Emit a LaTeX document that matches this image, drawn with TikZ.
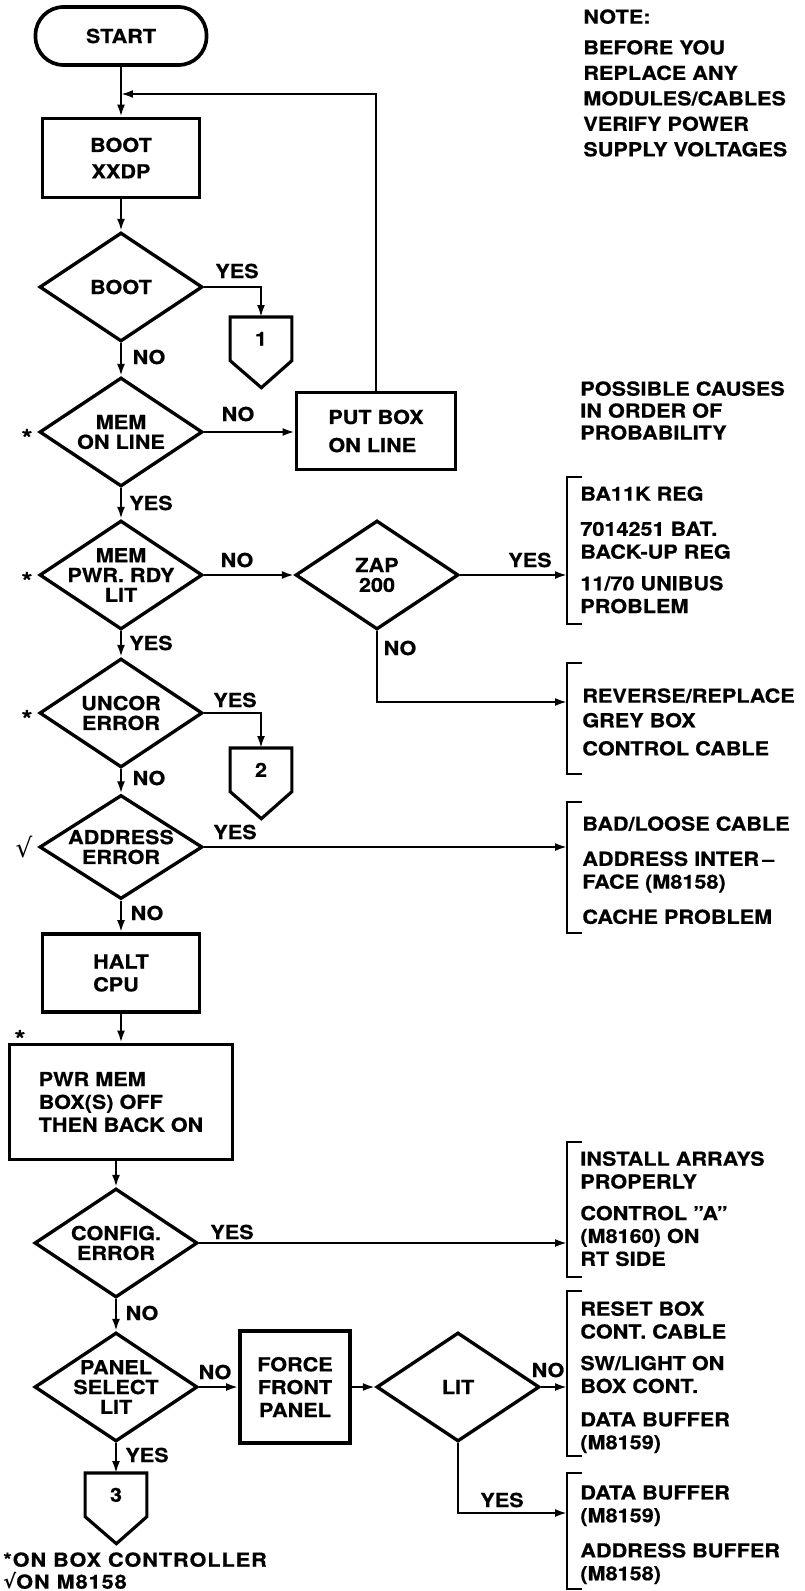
\documentclass[tikz,border=0pt]{standalone}
\usepackage{fontspec}
\newfontfamily\flowfont{TeX Gyre Heros}[FakeStretch=1.12, FakeBold=0.6]
\newfontfamily\tickfont{DejaVu Sans}
\usepackage{tikz}
\usetikzlibrary{positioning,arrows.meta,shapes.geometric}
\tikzset{
  every node/.style={font=\flowfont\bfseries\fontsize{11}{13}\selectfont},
  terminal/.style={rectangle, draw, rounded corners=0.56cm, line width=2.1pt,
                   minimum width=3.42cm, minimum height=1.16cm},
  process/.style={rectangle, draw, line width=2.2pt, align=center},
  decision/.style={diamond, draw, line width=1.9pt, minimum width=3.26cm,
                   minimum height=2.18cm, inner sep=-1.5cm, align=center,
                   font=\flowfont\bfseries\fontsize{11}{11.3}\selectfont},
  % off-page connector: box with a pointed bottom
  offpage/.style={rectangle, minimum width=1.22cm, minimum height=0.86cm,
                  inner sep=0pt, anchor=north,
                  append after command={\pgfextra{
                    \draw[line width=1.8pt, line join=miter]
                      (\tikzlastnode.south west) -- (\tikzlastnode.north west)
                      -- (\tikzlastnode.north east) -- (\tikzlastnode.south east)
                      -- ++(-0.61cm,-0.54cm) -- cycle;}}},
  flow/.style={-{Latex[length=2.4mm,width=1.6mm]}, line width=1.2pt},
  bracket/.style={line width=1.2pt},
  answer/.style={inner sep=0pt},
  starmark/.style={inner sep=0pt, font=\flowfont\bfseries\fontsize{14}{14}\selectfont},
  causes/.style={anchor=north west, align=left, inner sep=0pt},
}

\begin{document}
\begin{tikzpicture}[x=0.02cm, y=-0.02cm]
  \useasboundingbox (0,0) rectangle (804,1591);

  % main column
  \node[terminal] (start) at (121,36) {START};
  \node[process, minimum width=3.14cm, minimum height=1.58cm] (bootx) at (121,158) {BOOT\\[2pt]XXDP};
  \node[decision] (boot) at (121,287) {BOOT};
  \node[offpage] (conn1) at (261,317) {1};
  \node[decision] (memon) at (121,432) {MEM\\ON LINE};
  \node[process, align=left, minimum width=3.18cm, minimum height=1.54cm] (putbox) at (376,431) {PUT BOX\\[3pt]ON LINE};
  \node[decision] (mempwr) at (121,575) {MEM\\PWR. RDY\\LIT};
  \node[decision] (zap) at (377,575) {ZAP\\200};
  \node[decision] (uncor) at (121,713) {UNCOR\\ERROR};
  \node[offpage] (conn2) at (261,748) {2};
  \node[decision, minimum height=2.08cm] (addr) at (121,847) {ADDRESS\\ERROR};
  \node[process, align=left, minimum width=3.14cm, minimum height=1.56cm] (halt) at (121,973) {HALT\\CPU};
  \node[process, align=left, minimum width=4.46cm, minimum height=2.3cm] (pwrmem) at (121,1102) {PWR MEM\\BOX(S) OFF\\THEN BACK ON};
  \node[decision] (config) at (116,1243) {CONFIG.\\ERROR};
  \node[decision] (panel) at (116,1387) {PANEL\\SELECT\\LIT};
  \node[process, minimum width=2.2cm, minimum height=2.24cm] (force) at (295,1387) {FORCE\\FRONT\\PANEL};
  \node[decision] (lit) at (458,1387) {LIT};
  \node[offpage] (conn3) at (116,1473) {3};

  % yes / no answers
  \node[answer] (yes1) at (237,271) {YES};
  \node[answer] (no1) at (149,357) {NO};
  \node[answer] (no2) at (238,414) {NO};
  \node[answer] (yes2) at (151,503) {YES};
  \node[answer] (no3) at (237,560) {NO};
  \node[answer] (yes3) at (151,643) {YES};
  \node[answer] (yes4) at (530,560) {YES};
  \node[answer] (no4) at (400,648) {NO};
  \node[answer] (yes5) at (235,700) {YES};
  \node[answer] (no5) at (149,778) {NO};
  \node[answer] (yes6) at (235,832) {YES};
  \node[answer] (no6) at (147,913) {NO};
  \node[answer] (yes7) at (232,1232) {YES};
  \node[answer] (no7) at (142,1313) {NO};
  \node[answer] (no8) at (215,1372) {NO};
  \node[answer] (yes8) at (147,1455) {YES};
  \node[answer] (no9) at (548,1370) {NO};
  \node[answer] (yes9) at (502,1500) {YES};

  % where the check is made
  \node[starmark] (star1) at (27,438) {*};
  \node[starmark] (star2) at (27,581) {*};
  \node[starmark] (star3) at (27,719) {*};
  \node[starmark] (star4) at (20,1039) {*};
  \node[answer, font=\tickfont\fontsize{15}{15}\selectfont] (tick1) at (24,847) {√};

  % notes
  \node[causes, font=\flowfont\bfseries\fontsize{11}{14.5}\selectfont] (note) at (583,9)
    {NOTE:\\[3pt]BEFORE YOU\\REPLACE ANY\\MODULES/CABLES\\VERIFY POWER\\SUPPLY VOLTAGES};
  \node[causes, font=\flowfont\bfseries\fontsize{11}{12.5}\selectfont] (possible) at (580,381)
    {POSSIBLE CAUSES\\IN ORDER OF\\PROBABILITY};
  \node[causes, font=\flowfont\bfseries\fontsize{11}{12.5}\selectfont\addfontfeature{LetterSpace=5}] (foot) at (3,1552)
    {*ON BOX CONTROLLER\\{\tickfont√}ON M8158};

  % possible causes
  \node[causes] (cause1) at (580,486) {BA11K REG\\[7pt]7014251 BAT.\\BACK-UP REG\\[5pt]11/70 UNIBUS\\PROBLEM};
  \node[causes] (cause2) at (582,688) {REVERSE/REPLACE\\[1pt]GREY BOX\\[3pt]CONTROL CABLE};
  \node[causes] (cause3) at (582,816) {BAD/LOOSE CABLE\\[7pt]ADDRESS INTER\,–\\FACE (M8158)\\[7pt]CACHE PROBLEM};
  \node[causes] (cause4) at (580,1151) {INSTALL ARRAYS\\PROPERLY\\[5pt]CONTROL ”A”\\(M8160) ON\\RT SIDE};
  \node[causes] (cause5) at (580,1301) {RESET BOX\\CONT. CABLE\\[5pt]SW/LIGHT ON\\BOX CONT.\\[6pt]DATA BUFFER\\(M8159)};
  \node[causes] (cause6) at (580,1485) {DATA BUFFER\\(M8159)\\[7pt]ADDRESS BUFFER\\(M8158)};

  \foreach \t/\b in {477/624, 663/774, 802/933, 1142/1277, 1291/1456, 1473/1589}
    \draw[bracket] (582,\t) -- (567,\t) -- (567,\b) -- (582,\b);

  \coordinate (join) at (121,94);
  \coordinate (rail) at (567,0);
  \coordinate (zapno) at (567,702);
  \coordinate (lityes) at (567,1513);

  \draw[flow] (start) -- (bootx);
  \draw[flow] (putbox.north) |- (join);
  \draw[flow] (bootx) -- (boot);
  \draw[flow] (boot.east) -| (conn1.north);
  \draw[flow] (boot) -- (memon);
  \draw[flow] (memon.east) -- (memon.east -| putbox.west);
  \draw[flow] (memon) -- (mempwr);
  \draw[flow] (mempwr.east) -- (zap.west);
  \draw[flow] (zap.east) -- (zap.east -| rail);
  \draw[flow] (zap.south) |- (zapno);
  \draw[flow] (mempwr) -- (uncor);
  \draw[flow] (uncor.east) -| (conn2.north);
  \draw[flow] (uncor) -- (addr);
  \draw[flow] (addr.east) -- (addr.east -| rail);
  \draw[flow] (addr) -- (halt);
  \draw[flow] (halt) -- (pwrmem);
  \draw[flow] (config.north |- pwrmem.south) -- (config.north);
  \draw[flow] (config.east) -- (config.east -| rail);
  \draw[flow] (config) -- (panel);
  \draw[flow] (panel.east) -- (force.west);
  \draw[flow] (force.east) -- (lit.west);
  \draw[flow] (lit.east) -- (lit.east -| rail);
  \draw[flow] (lit.south) |- (lityes);
  \draw[flow] (panel) -- (conn3);
\end{tikzpicture}
\end{document}
